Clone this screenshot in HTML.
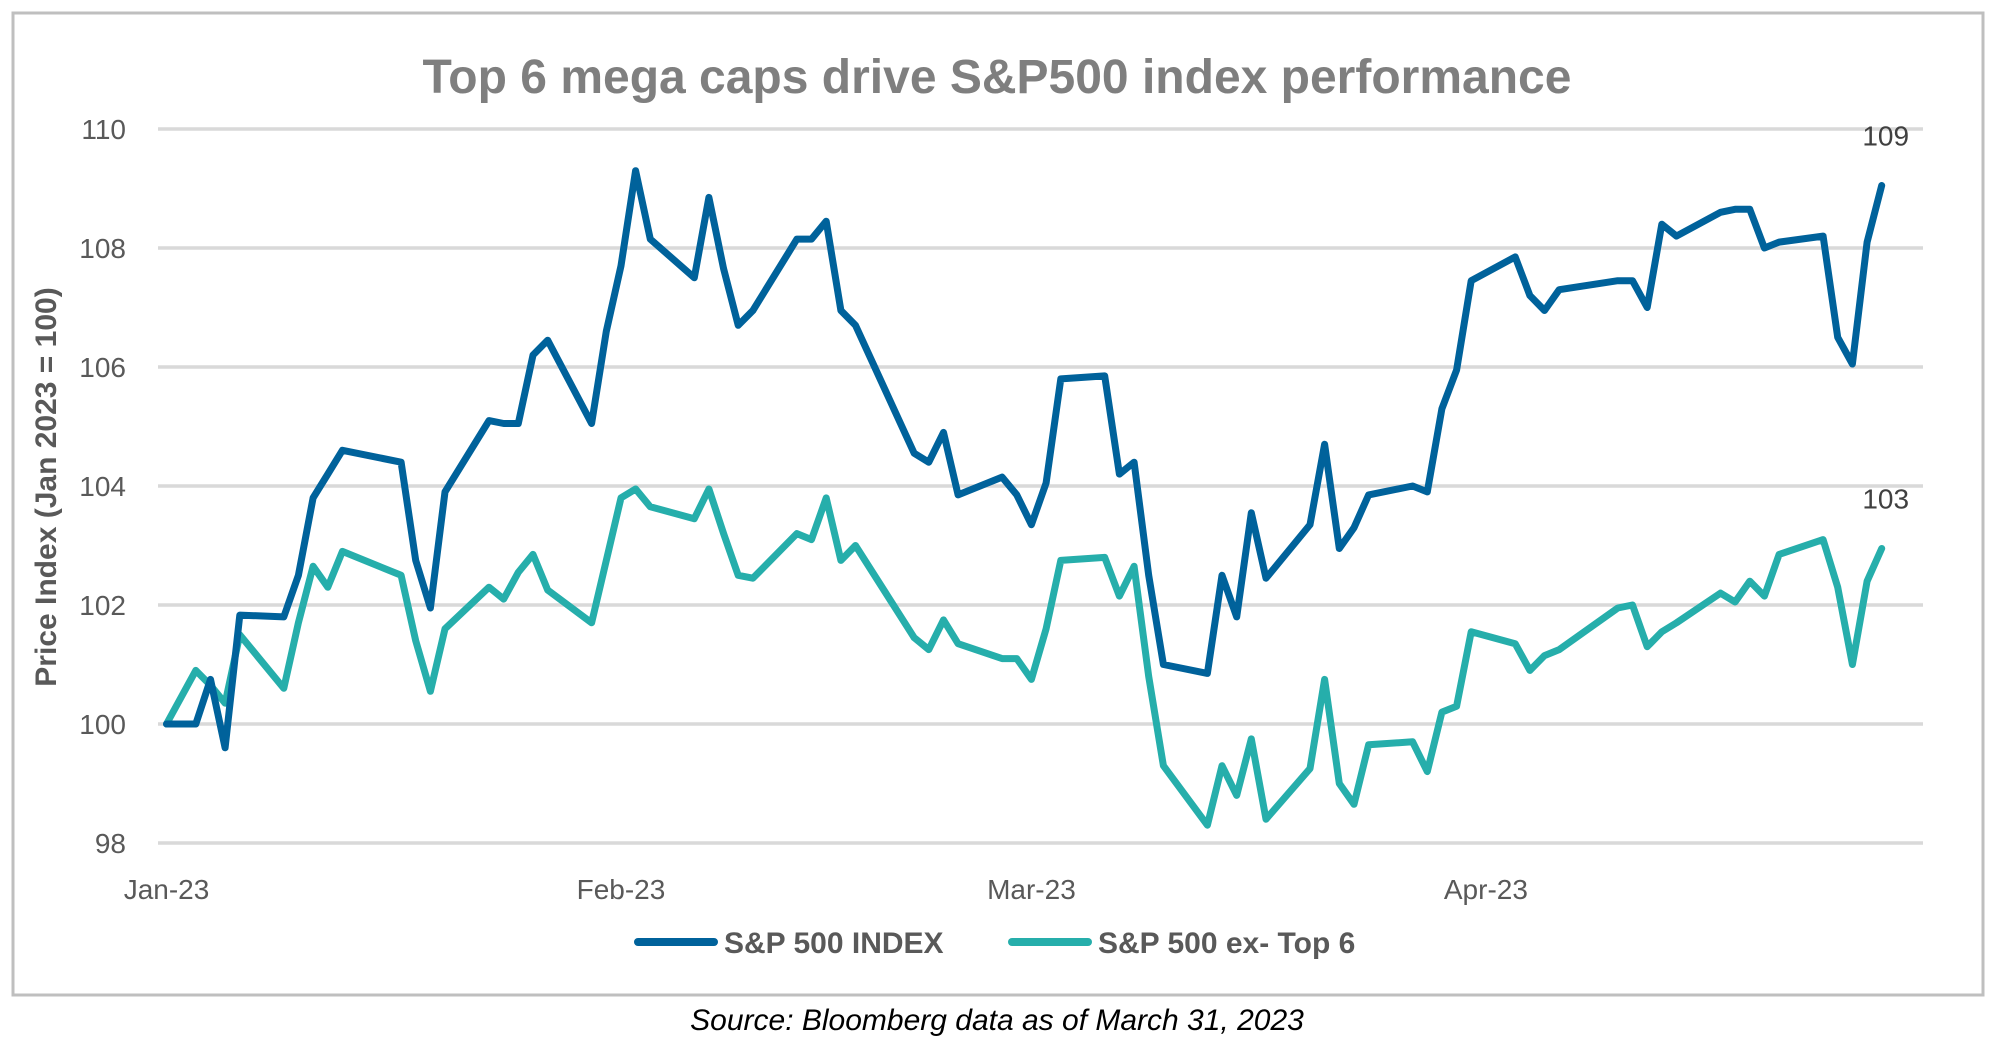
<!DOCTYPE html>
<html><head><meta charset="utf-8"><style>
html,body{margin:0;padding:0;background:#fff;width:1998px;height:1048px;overflow:hidden}
svg{display:block}
text{font-family:"Liberation Sans",sans-serif}
</style></head><body>
<svg id="chart" width="1998" height="1048" viewBox="0 0 1998 1048">
<rect x="13" y="13" width="1970" height="982" fill="#fff" stroke="#bfbfbf" stroke-width="3"/>
<text x="997" y="93" text-anchor="middle" font-size="48" font-weight="bold" fill="#7f7f7f">Top 6 mega caps drive S&amp;P500 index performance</text>
<g id="grid"></g>
<g id="yticks"></g>
<g id="xticks"></g>
<text transform="translate(56,487) rotate(-90)" text-anchor="middle" font-size="30" font-weight="bold" fill="#595959">Price Index (Jan 2023 = 100)</text>
<g id="series"></g>
<g>
<g>
<line x1="638" y1="942" x2="714" y2="942" stroke="#00629b" stroke-width="8" stroke-linecap="round"/>
<text x="724" y="953" font-size="30" font-weight="bold" fill="#595959">S&amp;P 500 INDEX</text>
</g>
<g>
<line x1="1012" y1="942" x2="1088" y2="942" stroke="#26aeab" stroke-width="8" stroke-linecap="round"/>
<text x="1098" y="953" font-size="30" font-weight="bold" fill="#595959">S&amp;P 500 ex- Top 6</text>
</g>
</g>
<text x="997" y="1030" text-anchor="middle" font-size="30" font-style="italic" fill="#000">Source: Bloomberg data as of March 31, 2023</text>
</svg>
<script>
const days=[0,2,3,4,5,8,9,10,11,12,16,17,18,19,22,23,24,25,26,29,30,31,32,33,36,37,38,39,40,43,44,45,46,47,51,52,53,54,57,58,59,60,61,64,65,66,67,68,71,72,73,74,75,78,79,80,81,82,85,86,87,88,89,92,93,94,95,99,100,101,102,103,106,107,108,109,110,113,114,115,116,117];
const spIndex=[100,100,100.75,99.6,101.83,101.8,102.5,103.8,104.2,104.6,104.4,102.75,101.95,103.9,105.1,105.05,105.05,106.2,106.45,105.05,106.6,107.7,109.3,108.15,107.5,108.85,107.65,106.7,106.95,108.15,108.15,108.45,106.95,106.7,104.55,104.4,104.9,103.85,104.15,103.85,103.35,104.05,105.8,105.85,104.2,104.4,102.5,101.0,100.85,102.5,101.8,103.55,102.45,103.35,104.7,102.95,103.3,103.85,104.0,103.9,105.3,105.95,107.45,107.85,107.2,106.95,107.3,107.45,107.45,107.0,108.4,108.2,108.6,108.65,108.65,108.0,108.1,108.2,106.5,106.05,108.1,109.05];
const exTop6=[100,100.9,100.65,100.35,101.5,100.6,101.7,102.65,102.3,102.9,102.5,101.4,100.55,101.6,102.3,102.1,102.55,102.85,102.25,101.7,102.75,103.8,103.95,103.65,103.45,103.95,103.2,102.5,102.45,103.2,103.1,103.8,102.75,103.0,101.45,101.25,101.75,101.35,101.1,101.1,100.75,101.6,102.75,102.8,102.15,102.65,100.8,99.3,98.3,99.3,98.8,99.75,98.4,99.25,100.75,99.0,98.65,99.65,99.7,99.2,100.2,100.3,101.55,101.35,100.9,101.15,101.25,101.95,102.0,101.3,101.55,101.7,102.2,102.05,102.4,102.15,102.85,103.1,102.3,101.0,102.4,102.95];
const yTicks=[98,100,102,104,106,108,110];
const xTickDays=[0,31,59,90];
const xTickLabels=["Jan-23","Feb-23","Mar-23","Apr-23"];
const endLabels=["109","103"];

const NS="http://www.w3.org/2000/svg";
const X0=166.5,PXD=14.66,Y110=129,PXU=59.5;
function xs(d){return X0+d*PXD;}
function ys(v){return Y110+(110-v)*PXU;}
function mk(tag,attrs){const e=document.createElementNS(NS,tag);for(const k in attrs)e.setAttribute(k,attrs[k]);return e;}

const grid=document.getElementById('grid'),yt=document.getElementById('yticks'),xt=document.getElementById('xticks'),ser=document.getElementById('series');
yTicks.forEach(v=>{
  const l=mk('line',{x1:158,x2:1923,y1:ys(v),y2:ys(v),stroke:'#d9d9d9','stroke-width':3.5});
  
  
  grid.appendChild(l);
  const t=mk('text',{x:126,y:ys(v)+10,'text-anchor':'end','font-size':28,fill:'#595959'});
  t.textContent=v;
  
  
  yt.appendChild(t);
});
xTickDays.forEach((d,i)=>{
  const t=mk('text',{x:xs(d),y:899,'text-anchor':'middle','font-size':28,fill:'#595959'});
  t.textContent=xTickLabels[i];
  
  
  xt.appendChild(t);
});
function drawLine(vals,color,name,label,dy){
  const pts=vals.map((v,i)=>xs(days[i]).toFixed(1)+','+ys(v).toFixed(1)).join(' ');
  const p=mk('polyline',{points:pts,fill:'none',stroke:color,'stroke-width':7,'stroke-linejoin':'round','stroke-linecap':'round'});
  
  
  ser.appendChild(p);
  const last=vals.length-1;
  const t=mk('text',{x:xs(days[last])+4,y:ys(vals[last])+dy,'text-anchor':'middle','font-size':28,fill:'#404040'});
  t.textContent=label;
  
  
  ser.appendChild(t);
}
drawLine(exTop6,'#26aeab','line-sp500-ex-top6',endLabels[1],-40);
drawLine(spIndex,'#00629b','line-sp500-index',endLabels[0],-40);
</script>
</body></html>
